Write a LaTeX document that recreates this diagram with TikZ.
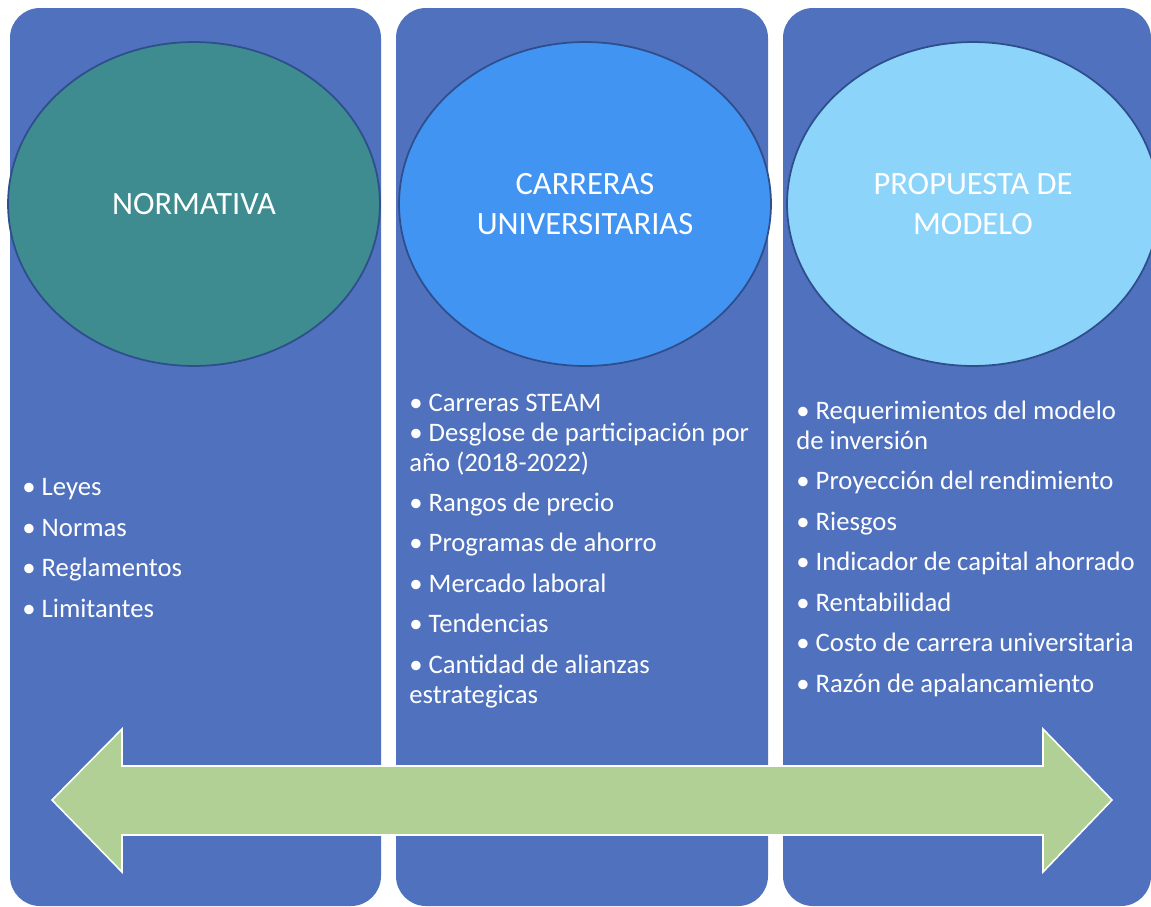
\documentclass[tikz,border=0pt]{standalone}
\usepackage{fontspec}
\setmainfont{Carlito}
\usetikzlibrary{shapes.geometric}
\definecolor{panelblue}{HTML}{4F71BE}
\definecolor{rimblue}{HTML}{2E4E8C}
\definecolor{tealgreen}{HTML}{3E8C8F}
\definecolor{midblue}{HTML}{4294F3}
\definecolor{lightblue}{HTML}{8CD4FA}
\definecolor{arrowgreen}{HTML}{B0D095}
\begin{document}
\begin{tikzpicture}[x=0.02cm,y=-0.02cm,
    panel/.style={fill=panelblue,rounded corners=0.6cm},
    topic/.style={ellipse,draw=rimblue,line width=1pt,minimum width=7.44cm,minimum height=6.48cm,
      inner sep=0pt,text=white,align=center,font=\fontsize{18.5}{22.7}\selectfont},
    items/.style={anchor=base west,inner sep=0pt,text=white,align=left,font=\fontsize{15.2}{17}\selectfont}]
  \useasboundingbox (0,0) rectangle (1151,906);
  \fill[panel] (10,8) rectangle (381,906);
  \fill[panel] (396,8) rectangle (768,906);
  \fill[panel] (783,8) rectangle (1151,906);
  \node[topic,fill=tealgreen] (normativa) at (194,204) {NORMATIVA};
  \node[topic,fill=midblue] (carreras) at (585,204) {CARRERAS\\UNIVERSITARIAS};
  \node[topic,fill=lightblue] (propuesta) at (973,204) {PROPUESTA DE\\MODELO};
  \node[items] (leyes) at (22,617) {• Leyes\\[6pt]• Normas\\[6pt]• Reglamentos\\[6pt]• Limitantes};
  \node[items] (steam) at (409,703) {• Carreras STEAM\\• Desglose de participación por\\año (2018-2022)\\[6pt]%
    • Rangos de precio\\[6pt]• Programas de ahorro\\[6pt]• Mercado laboral\\[6pt]• Tendencias\\[6pt]%
    • Cantidad de alianzas\\estrategicas};
  \node[items] (requisitos) at (796,692) {• Requerimientos del modelo\\de inversión\\[6pt]%
    • Proyección del rendimiento\\[6pt]• Riesgos\\[6pt]• Indicador de capital ahorrado\\[6pt]%
    • Rentabilidad\\[6pt]• Costo de carrera universitaria\\[6pt]• Razón de apalancamiento};
  \draw[fill=arrowgreen,draw=white,line width=0.9pt] (52,800) -- (122,729) -- (122,766) -- (1043,766)
    -- (1043,729) -- (1112,800) -- (1043,872) -- (1043,835) -- (122,835) -- (122,872) -- cycle;
\end{tikzpicture}
\end{document}
